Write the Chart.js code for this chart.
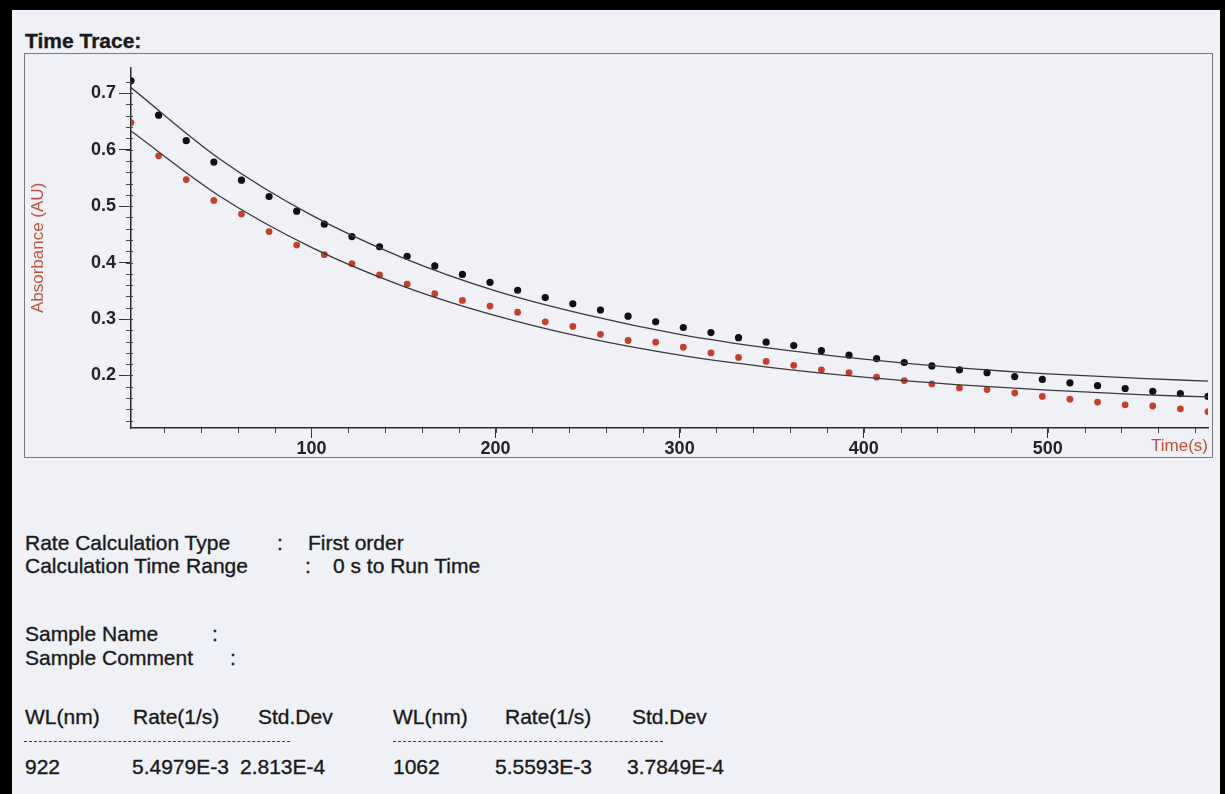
<!DOCTYPE html>
<html>
<head>
<meta charset="utf-8">
<script src="https://cdn.jsdelivr.net/npm/chart.js@4.4.1/dist/chart.umd.min.js"></script>
<style>
  html, body { margin: 0; padding: 0; background: #000; }
  #paper {
    position: absolute; left: 12px; top: 10px; width: 1208px; height: 784px;
    background: #eff1f7;
  }
  .t {
    position: absolute; white-space: nowrap; line-height: 21px;
    font-family: "Liberation Sans", Arial, sans-serif; font-size: 21px; color: #1a1a1a;
    -webkit-text-stroke: 0.35px #1a1a1a;
  }
  #frame {
    position: absolute; left: 12px; top: 43px; width: 1187px; height: 403px;
    border: 1px solid #7a7a7a;
  }
  .dash { position: absolute; border-top: 1.5px dashed #3a3a3a; height: 0; }
</style>
</head>
<body>
<div id="paper">
  <div class="t" style="left:13px; top:20px; font-weight:bold;">Time Trace:</div>
  <div id="frame"><canvas id="traceChart"></canvas></div>

  <div class="t" style="left:13px; top:522px;">Rate Calculation Type</div>
  <div class="t" style="left:265px; top:522px;">:</div>
  <div class="t" style="left:296px; top:522px;">First order</div>
  <div class="t" style="left:13px; top:545px;">Calculation Time Range</div>
  <div class="t" style="left:293px; top:545px;">:</div>
  <div class="t" style="left:321px; top:545px;">0 s to Run Time</div>

  <div class="t" style="left:13px; top:613px;">Sample Name</div>
  <div class="t" style="left:200px; top:613px;">:</div>
  <div class="t" style="left:13px; top:637px;">Sample Comment</div>
  <div class="t" style="left:218px; top:637px;">:</div>

  <div class="t" style="left:13px; top:696px;">WL(nm)</div>
  <div class="t" style="left:121px; top:696px;">Rate(1/s)</div>
  <div class="t" style="left:246px; top:696px;">Std.Dev</div>
  <div class="t" style="left:381px; top:696px;">WL(nm)</div>
  <div class="t" style="left:493px; top:696px;">Rate(1/s)</div>
  <div class="t" style="left:620px; top:696px;">Std.Dev</div>

  <div class="dash" style="left:12px; top:731px; width:266px;"></div>
  <div class="dash" style="left:381px; top:731px; width:270px;"></div>

  <div class="t" style="left:13px; top:746px;">922</div>
  <div class="t" style="left:120px; top:746px;">5.4979E-3</div>
  <div class="t" style="left:228px; top:746px;">2.813E-4</div>
  <div class="t" style="left:381px; top:746px;">1062</div>
  <div class="t" style="left:483px; top:746px;">5.5593E-3</div>
  <div class="t" style="left:615px; top:746px;">3.7849E-4</div>
</div>

<script>
// measured time trace (s) and absorbance (AU)
var times = [2, 17, 32, 47, 62, 77, 92, 107, 122, 137, 152, 167, 182, 197, 212, 227, 242, 257, 272, 287,
             302, 317, 332, 347, 362, 377, 392, 407, 422, 437, 452, 467, 482, 497, 512, 527, 542, 557, 572, 587];
var blackValues = [0.722, 0.661, 0.616, 0.578, 0.546, 0.517, 0.491, 0.468, 0.446, 0.428,
                   0.411, 0.394, 0.379, 0.365, 0.351, 0.338, 0.327, 0.316, 0.305, 0.295,
                   0.285, 0.276, 0.267, 0.259, 0.253, 0.244, 0.236, 0.230, 0.223, 0.217,
                   0.210, 0.205, 0.198, 0.193, 0.187, 0.182, 0.177, 0.172, 0.168, 0.163];
var redValues = [0.648, 0.589, 0.547, 0.510, 0.486, 0.455, 0.431, 0.414, 0.398, 0.378,
                 0.362, 0.345, 0.333, 0.323, 0.312, 0.295, 0.287, 0.273, 0.262, 0.259,
                 0.250, 0.240, 0.232, 0.225, 0.218, 0.210, 0.205, 0.197, 0.191, 0.185,
                 0.178, 0.175, 0.169, 0.163, 0.158, 0.153, 0.148, 0.146, 0.141, 0.136];

// fitted first order curves
var fitTimes = [2, 50, 100, 150, 200, 250, 300, 350, 400, 450, 500, 550, 587];
var blackFit = [0.710, 0.584, 0.484, 0.408, 0.350, 0.307, 0.273, 0.248, 0.229, 0.214, 0.203, 0.195, 0.190];
var redFit = [0.633, 0.518, 0.427, 0.358, 0.306, 0.266, 0.236, 0.214, 0.197, 0.184, 0.174, 0.166, 0.162];

var xTickLabels = [100, 200, 300, 400, 500];
var yTickLabels = [0.2, 0.3, 0.4, 0.5, 0.6, 0.7];
var xMinorStep = 20;
var yMinorStep = 0.02;

function pairs(xs, ys) {
  return xs.map(function (x, i) { return { x: x, y: ys[i] }; });
}

var minorTicks = {
  id: "minorTicks",
  afterDraw: function (chart) {
    var ctx = chart.ctx, xs = chart.scales.x, ys = chart.scales.y;
    var area = chart.chartArea;
    ctx.save();
    ctx.strokeStyle = "#444";
    ctx.lineWidth = 1;
    ctx.beginPath();
    for (var v = xMinorStep; v < xs.max; v += xMinorStep) {
      var px = Math.round(xs.getPixelForValue(v)) + 0.5;
      ctx.moveTo(px, area.bottom);
      ctx.lineTo(px, area.bottom + 5);
    }
    for (var w = 0.12; w < ys.max - 0.01; w += yMinorStep) {
      var py = Math.round(ys.getPixelForValue(w)) + 0.5;
      ctx.moveTo(area.left - 5, py);
      ctx.lineTo(area.left + 2, py);
    }
    ctx.stroke();
    ctx.restore();
  }
};

var tickFont = { family: "'Liberation Sans', Arial, sans-serif", size: 18, weight: "bold" };

new Chart("traceChart", {
  type: "scatter",
  data: {
    datasets: [
      {
        data: pairs(fitTimes, blackFit), showLine: true, borderColor: "#3a3a3a", borderWidth: 1.3,
        pointRadius: 0, tension: 0.4, cubicInterpolationMode: "monotone", clip: 0
      },
      {
        data: pairs(fitTimes, redFit), showLine: true, borderColor: "#3a3a3a", borderWidth: 1.3,
        pointRadius: 0, tension: 0.4, cubicInterpolationMode: "monotone", clip: 0
      },
      {
        data: pairs(times, blackValues), backgroundColor: "#111", borderWidth: 0,
        pointRadius: 3.6, clip: 0
      },
      {
        data: pairs(times, redValues), backgroundColor: "#c4402c", borderWidth: 0,
        pointRadius: 3.4, clip: 0
      }
    ]
  },
  options: {
    responsive: true,
    maintainAspectRatio: false,
    animation: false,
    layout: { padding: { top: 1, right: 2, left: 0, bottom: 0 } },
    plugins: { legend: { display: false }, tooltip: { enabled: false } },
    scales: {
      x: {
        type: "linear", min: 2, max: 587,
        afterBuildTicks: function (s) { s.ticks = xTickLabels.map(function (v) { return { value: v }; }); },
        afterFit: function (s) { s.height = 29; },
        ticks: { font: tickFont, color: "#242424", padding: 0, autoSkip: false, maxRotation: 0 },
        grid: { drawOnChartArea: false, tickLength: 10, tickColor: "#333", tickWidth: 1 },
        border: { display: true, color: "#2a2a2a", width: 1.5 },
        title: {
          display: true, text: "Time(s)", align: "end", color: "#c0503a",
          font: { family: "'Liberation Sans', Arial, sans-serif", size: 17 }, padding: 0
        }
      },
      y: {
        type: "linear", min: 0.107, max: 0.745,
        afterBuildTicks: function (s) { s.ticks = yTickLabels.map(function (v) { return { value: v }; }); },
        afterFit: function (s) { s.width = 106; },
        ticks: {
          font: tickFont, color: "#242424", padding: 3,
          callback: function (v) { return v.toFixed(1); }
        },
        grid: { drawOnChartArea: false, tickLength: 12, tickColor: "#333", tickWidth: 1 },
        border: { display: true, color: "#2a2a2a", width: 1.5 },
        title: {
          display: true, text: "Absorbance (AU)", color: "#c0503a",
          font: { family: "'Liberation Sans', Arial, sans-serif", size: 17 }, padding: { top: 3, bottom: 0 }
        }
      }
    }
  },
  plugins: [minorTicks]
});
</script>
</body>
</html>
